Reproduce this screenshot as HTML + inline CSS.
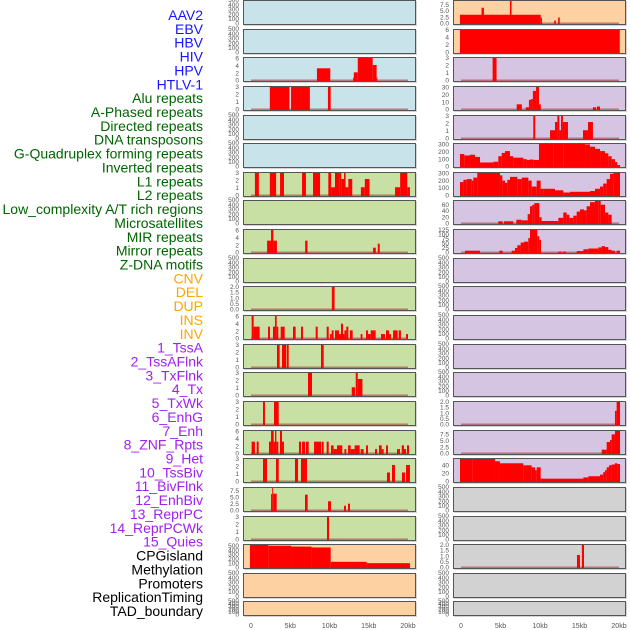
<!DOCTYPE html>
<html><head><meta charset="utf-8">
<style>
html,body{margin:0;padding:0;background:#fff;}
svg{display:block;font-family:"Liberation Sans",sans-serif;}
</style></head>
<body>
<svg id="chart" width="630" height="630" viewBox="0 0 630 630"></svg>
<script>
const trackLabels = ["AAV2","EBV","HBV","HIV","HPV","HTLV-1","Alu repeats","A-Phased repeats","Directed repeats","DNA transposons","G-Quadruplex forming repeats","Inverted repeats","L1 repeats","L2 repeats","Low_complexity A/T rich regions","Microsatellites","MIR repeats","Mirror repeats","Z-DNA motifs","CNV","DEL","DUP","INS","INV","1_TssA","2_TssAFlnk","3_TxFlnk","4_Tx","5_TxWk","6_EnhG","7_Enh","8_ZNF_Rpts","9_Het","10_TssBiv","11_BivFlnk","12_EnhBiv","13_ReprPC","14_ReprPCWk","15_Quies","CPGisland","Methylation","Promoters","ReplicationTiming","TAD_boundary"];
const labelColors = ["#1515ff","#1515ff","#1515ff","#1515ff","#1515ff","#1515ff","#006400","#006400","#006400","#006400","#006400","#006400","#006400","#006400","#006400","#006400","#006400","#006400","#006400","#ffa500","#ffa500","#ffa500","#ffa500","#ffa500","#a020f0","#a020f0","#a020f0","#a020f0","#a020f0","#a020f0","#a020f0","#a020f0","#a020f0","#a020f0","#a020f0","#a020f0","#a020f0","#a020f0","#a020f0","#000","#000","#000","#000","#000"];
const xTickValues = [0,5,10,15,20];
const xTickLabels = ["0","5kb","10kb","15kb","20kb"];
const emptyTicks = [0,100,200,300,400,500];
const t3 = [0,1,2,3], t6 = [0,2,4,6], t2 = [0,0.5,1,1.5,2], t75 = [0,2.5,5,7.5];
const leftYMax = [500,500,6.35,3.13,500,500,3.13,500,6.35,500,2.07,6.35,3.13,3.13,3.13,6.35,3.13,8.9,3.13,540,500,500];
const rightYMax = [9.4,6.26,3.13,31.7,3.13,320,315,75,130,500,500,500,500,500,2.07,9.2,58,500,500,2.07,500,500];
const leftTicks = [emptyTicks,emptyTicks,t6,t3,emptyTicks,emptyTicks,t3,emptyTicks,t6,emptyTicks,t2,t6,t3,t3,t3,t6,t3,t75,t3,emptyTicks,emptyTicks,emptyTicks];
const rightTicks = [t75,t6,t3,[0,10,20,30],t3,[0,100,200,300],[0,100,200,300],[0,20,40,60],[0,25,50,75,100,125],emptyTicks,emptyTicks,emptyTicks,emptyTicks,emptyTicks,t2,t75,[0,20,40],emptyTicks,emptyTicks,t2,emptyTicks,emptyTicks];
const leftColors = ["#c8e3ea","#c8e3ea","#c8e3ea","#c8e3ea","#c8e3ea","#c8e3ea","#c9e0a5","#c9e0a5","#c9e0a5","#c9e0a5","#c9e0a5","#c9e0a5","#c9e0a5","#c9e0a5","#c9e0a5","#c9e0a5","#c9e0a5","#c9e0a5","#c9e0a5","#fdd1a1","#fdd1a1","#fdd1a1"];
const rightColors = ["#fdd1a1","#fdd1a1","#d6c5e2","#d6c5e2","#d6c5e2","#d6c5e2","#d6c5e2","#d6c5e2","#d6c5e2","#d6c5e2","#d6c5e2","#d6c5e2","#d6c5e2","#d6c5e2","#d6c5e2","#d6c5e2","#d6c5e2","#d2d2d2","#d2d2d2","#d2d2d2","#d2d2d2","#d2d2d2"];
// bars: [startKb, endKb, value]
const leftBars = [
 [],[],
 [[8.4,10.1,3.3],[13.0,13.1,0.8],[13.1,13.6,2.2],[13.6,15.5,6.5],[15.5,16.0,4.2],[16.0,16.1,0.8]],
 [[2.4,4.9,3.2],[5.1,7.5,3.2],[9.8,10.15,3.2]],
 [],[],
 [[0.5,1.0,3.2],[2.4,3.2,3.2],[3.7,4.2,3.2],[6.5,7.0,3.2],[7.9,8.8,3.2],[9.85,10.2,3.2],[10.2,10.7,1.1],[10.7,11.25,3.2],[11.25,11.5,3.2],[11.5,11.85,2.2],[11.85,12.05,3.2],[12.05,12.4,1.1],[12.4,12.9,2.2],[14.0,14.5,1.1],[14.5,15.1,2.2],[18.35,19.0,1.1],[19.0,19.9,3.2],[19.9,20.25,1.1]],
 [],
 [[2.05,2.55,3.2],[2.55,2.85,6.2],[2.85,3.3,3.2],[6.9,7.2,3.2],[15.55,15.9,1.3],[16.15,16.4,2.4]],
 [],
 [[10.3,10.65,2.1]],
 [[0.08,0.34,6.2],[0.34,0.76,3.2],[0.76,1.1,3.2],[2.17,2.42,3.2],[2.8,3.06,3.2],[3.06,3.27,6.2],[3.27,3.48,3.2],[3.78,4.29,3.2],[5.35,5.69,3.2],[6.37,6.62,3.2],[8.24,8.5,3.2],[9.64,9.9,3.2],[10.07,10.28,1.2],[10.28,10.53,2.2],[10.7,11.21,2.2],[11.21,11.46,1.2],[11.46,11.72,4],[11.72,11.9,1.2],[11.9,12.14,2.2],[12.14,12.4,3.2],[12.6,12.95,2.2],[13.97,14.2,1.2],[14.65,14.9,2.2],[14.9,15.25,1.2],[15.25,15.88,2.2],[16.56,17.07,1.2],[17.2,17.58,2.2],[17.58,17.83,1.2],[18.1,18.68,2.2],[18.81,19.1,2.2],[19.75,20.0,1.2]],
 [[3.31,3.65,3.2],[3.95,4.46,3.2],[4.54,4.8,3.2],[8.92,9.26,3.2]],
 [[7.26,7.77,3.2],[12.83,13.25,1.1],[13.34,13.6,3.2],[13.6,14.2,2.2]],
 [[1.53,1.78,3.2],[2.93,3.53,3.2]],
 [[0.08,0.5,3.2],[0.72,0.98,3.2],[2.29,2.55,3.2],[2.55,2.89,6.2],[2.89,3.06,3.2],[3.06,3.23,6.2],[3.23,3.48,3.2],[3.69,3.95,6.2],[3.95,4.2,3.2],[6.11,6.37,3.2],[6.5,6.88,3.2],[6.99,7.35,3.2],[8.03,8.92,3.2],[9.0,9.26,3.2],[9.64,9.9,3.2],[10.19,10.53,2.2],[10.53,10.95,1.2],[10.96,11.63,2.2],[11.9,12.14,1.2],[12.36,12.7,2.2],[12.7,13.2,1.2],[13.2,13.85,2.2],[13.97,14.35,1.2],[14.65,14.9,2.2],[15.8,16.05,1.2],[16.3,16.65,2.2],[16.65,16.9,1.2],[17.2,17.45,2.2],[18.6,18.98,1.2],[19.2,19.49,2.2],[19.49,19.75,1.2],[19.87,20.13,2.2]],
 [[1.53,2.04,3.2],[3.18,3.53,3.2],[5.6,5.99,3.2],[6.37,7.13,3.2],[17.32,17.7,1.2],[17.96,18.34,2.2],[19.23,19.62,1.2],[19.75,20.25,2.2]],
 [[2.55,2.7,6.2],[2.7,2.82,9],[2.82,3.27,6.4],[6.88,7.22,6],[9.81,10.19,3.5],[11.85,12.1,1.8],[12.36,12.61,2.6]],
 [[9.68,9.94,3.2]],
 [[-0.13,2.2,520],[2.2,5.1,500],[5.1,7.7,480],[7.7,10.15,460],[10.15,14.74,130],[14.74,20.25,100]],
 [],[]
];
const rightBars = [
 [[-0.13,10.1,3.5],[2.6,2.9,6.3],[6.2,6.4,9.5],[10.1,10.25,2.3],[11.8,12.0,1.2],[12.3,12.5,2.4]],
 [[-0.13,20.1,6.4]],
 [[4.0,4.5,3.2]],
 [[7.05,7.7,7],[8.2,8.6,3],[8.6,8.85,13],[8.85,9.1,14],[9.1,9.5,25],[9.5,9.87,34],[9.87,10.1,7],[16.7,17.1,3],[17.2,17.6,4]],
 [[9.15,9.4,3.2],[11.27,11.9,1.1],[11.9,12.2,2.2],[12.2,12.45,3.2],[12.45,12.66,1.1],[12.66,12.9,3.2],[12.9,13.54,2.2],[15.44,16.07,1.1],[16.07,16.7,2.2]],
 [[-0.13,0.42,170],[0.42,1.14,150],[1.14,1.77,160],[1.77,2.41,130],[2.41,4.09,55],[4.09,4.72,65],[4.72,5.15,140],[5.15,5.57,185],[5.57,6.2,210],[6.2,6.62,140],[6.62,7.89,120],[7.89,8.31,100],[8.31,8.73,90],[8.73,9.15,95],[9.15,9.87,90],[9.87,10.63,335],[10.63,11.69,320],[11.69,12.95,340],[12.95,14.43,350],[14.43,15.7,320],[15.7,16.33,300],[16.33,16.96,270],[16.96,17.6,240],[17.6,18.23,210],[18.23,18.65,180],[18.65,19.07,140],[19.07,19.49,100],[19.49,19.79,60],[19.79,20.13,20]],
 [[-0.13,0.3,180],[0.3,0.72,210],[0.72,1.35,220],[1.35,1.56,200],[1.56,2.06,240],[2.06,4.93,320],[4.93,5.23,270],[5.23,5.57,200],[5.57,5.86,170],[5.86,6.2,210],[6.2,7.13,250],[7.13,7.68,220],[7.68,8.52,240],[8.52,8.94,200],[8.94,9.58,120],[9.58,10.08,200],[10.08,10.42,90],[10.42,11.9,90],[11.9,12.95,70],[12.95,13.8,40],[13.8,16.33,50],[16.33,16.96,60],[16.96,17.6,90],[17.6,18.0,120],[18.0,18.44,160],[18.44,18.86,220],[18.86,19.28,290],[19.28,20.13,320]],
 [[4.72,5.27,7],[5.44,6.62,7],[7.0,7.68,12],[7.68,8.44,10],[8.44,8.73,30],[8.73,9.03,55],[9.03,9.28,60],[9.28,9.92,65],[9.92,10.2,20],[10.2,12.32,8],[12.32,12.95,18],[12.95,13.38,35],[13.38,13.72,28],[13.72,14.22,18],[14.22,14.64,25],[14.64,15.06,38],[15.06,15.57,45],[15.57,15.9,42],[15.9,16.33,55],[16.33,16.96,68],[16.96,17.38,72],[17.38,17.68,78],[17.68,18.23,60],[18.23,18.65,35],[18.65,19.07,28]],
 [[0.5,2.41,10],[4.85,5.27,10],[6.42,6.84,10],[6.84,7.13,25],[7.13,7.55,40],[7.55,7.97,55],[7.97,8.52,60],[8.52,8.73,80],[8.73,9.66,130],[9.66,9.92,90],[9.92,10.13,70],[12.32,12.74,5],[12.87,13.3,5],[14.64,15.49,8],[15.49,16.12,18],[16.12,17.38,22],[17.38,17.8,28],[17.8,18.23,35],[18.23,18.65,30],[18.65,19.07,15],[19.07,19.49,10],[19.7,20.13,10]],
 [],[],[],[],[],
 [[19.49,19.7,1.2],[19.7,20.13,2.1]],
 [[17.81,18.44,1.5],[18.44,18.86,4.5],[18.86,19.07,5.3],[19.07,19.49,7.5],[19.49,20.13,9.5]],
 [[-0.13,1.48,60],[1.48,4.3,57],[4.3,4.93,50],[4.93,7.89,45],[7.89,8.94,40],[8.94,9.37,35],[9.37,9.58,28],[9.58,10.08,35],[10.08,15.49,7],[15.49,16.12,10],[16.12,17.6,13],[17.6,18.0,17],[18.0,18.23,23],[18.23,18.44,28],[18.44,18.73,35],[18.73,19.07,40],[19.07,19.49,42],[19.49,19.79,45],[19.79,20.13,43]],
 [],[],
 [[14.68,15.06,1.1],[15.3,15.57,2.1]],
 [],[]
];

const NS = "http://www.w3.org/2000/svg";
const svg = document.getElementById("chart");
function mk(tag, attrs, parent) {
  const e = document.createElementNS(NS, tag);
  for (const k in attrs) e.setAttribute(k, attrs[k]);
  (parent || svg).appendChild(e);
  return e;
}
// labels
trackLabels.forEach((t, i) => {
  const el = mk("text", {x: 203, y: 20 + i * 13.86, "text-anchor": "end", "font-size": 14, fill: labelColors[i]});
  el.textContent = t;
  
  
});
function rowTop(i) { return Math.round(i * 28.64); }
function rowH(i) { return i === 21 ? 15 : 25; }
function fmt(v, ticks) {
  const dec = ticks.some(t => t % 1 !== 0);
  return dec ? v.toFixed(1) : String(v);
}
function drawPanel(col, i) {
  const x0 = col === 0 ? 243 : 453, w = 173;
  const xs = col === 0 ? (k => 251 + k * 7.85) : (k => 461 + k * 7.9);
  const top = rowTop(i), h = rowH(i);
  const ymax = col === 0 ? leftYMax[i] : rightYMax[i];
  const ticks = col === 0 ? leftTicks[i] : rightTicks[i];
  const bars = col === 0 ? leftBars[i] : rightBars[i];
  const bg = col === 0 ? leftColors[i] : rightColors[i];
  const zeroY = top + h - 1.5;
  const ys = v => zeroY - v * (zeroY - top) / ymax;
  const g = mk("g", {});
  
  
  mk("rect", {x: x0 + 1, y: top + 1, width: w, height: h, fill: "#aaa", opacity: 0.5}, g);
  mk("rect", {x: x0, y: top, width: w, height: h, fill: bg}, g);
  const cid = "c" + col + "_" + i;
  const cp = mk("clipPath", {id: cid}, g);
  mk("rect", {x: x0, y: top, width: w, height: h}, cp);
  const dg = mk("g", {"clip-path": "url(#" + cid + ")"}, g);
  if (bars.length) {
    const bl = mk("line", {x1: xs(0), x2: xs(20), y1: zeroY, y2: zeroY, stroke: "#a03c3c", "stroke-opacity": 0.6, "stroke-width": 2}, dg);
    
    
  }
  bars.forEach(b => {
    const y = ys(b[2]);
    const r = mk("rect", {x: xs(b[0]), y: y, width: Math.max(0.8, xs(b[1]) - xs(b[0])), height: zeroY - y + 0.5, fill: "#ff0000"}, dg);
    
    
  });
  mk("rect", {x: x0 + 0.5, y: top + 0.5, width: w - 1, height: h - 1, fill: "none", stroke: "#555", "stroke-width": 1}, g);
  ticks.forEach(t => {
    const tx = mk("text", {x: x0 - 4, y: ys(t) + 2.2, "text-anchor": "end", "font-size": 6.5, fill: "#555"}, g);
    tx.textContent = fmt(t, ticks);
    
    
  });
}
for (let i = 0; i < 22; i++) { drawPanel(0, i); drawPanel(1, i); }
[0, 1].forEach(col => {
  const xs = col === 0 ? (k => 251 + k * 7.85) : (k => 461 + k * 7.9);
  xTickValues.forEach((v, j) => {
    const t = mk("text", {x: xs(v), y: 628, "text-anchor": "middle", "font-size": 7, fill: "#555"});
    t.textContent = xTickLabels[j];
    
    
  });
});
</script>
</body></html>
